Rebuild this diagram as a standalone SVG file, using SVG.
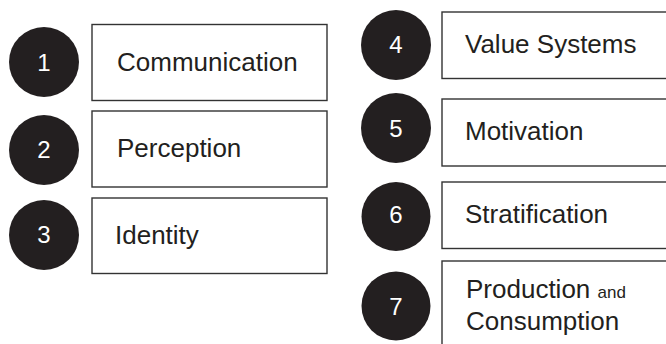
<svg xmlns="http://www.w3.org/2000/svg" width="666" height="344" viewBox="0 0 666 344">
<style>
.c{fill:#231f20}
.b{fill:#fff;stroke:#333;stroke-width:1.4}
.n{font-family:"Liberation Sans",Arial,sans-serif;font-size:24px;fill:#fff;text-anchor:middle}
.t{font-family:"Liberation Sans",Arial,sans-serif;font-size:26px;fill:#231f20}
.s{font-size:17px}
</style>
<rect width="666" height="344" fill="#fff"/>
<g id="node1">
<circle class="c" cx="44" cy="62" r="35"/><text class="n" x="44" y="71">1</text>
<rect class="b" x="92" y="24.5" width="235" height="76"/><text class="t" x="117" y="71">Communication</text>
</g>
<g id="node2">
<circle class="c" cx="44" cy="150" r="35"/><text class="n" x="44" y="158">2</text>
<rect class="b" x="92" y="111" width="235" height="76"/><text class="t" x="117" y="157">Perception</text>
</g>
<g id="node3">
<circle class="c" cx="44" cy="235" r="35"/><text class="n" x="44" y="243">3</text>
<rect class="b" x="92" y="198" width="235" height="75.5"/><text class="t" x="115" y="244">Identity</text>
</g>
<g id="node4">
<circle class="c" cx="396" cy="45" r="35"/><text class="n" x="396" y="53">4</text>
<rect class="b" x="442" y="12" width="230" height="66.5"/><text class="t" x="465" y="53">Value Systems</text>
</g>
<g id="node5">
<circle class="c" cx="396" cy="128" r="35"/><text class="n" x="396" y="137">5</text>
<rect class="b" x="442" y="99" width="230" height="67"/><text class="t" x="465" y="140">Motivation</text>
</g>
<g id="node6">
<circle class="c" cx="396" cy="216.5" r="34.5"/><text class="n" x="396" y="222.5">6</text>
<rect class="b" x="442" y="182" width="230" height="66.5"/><text class="t" x="465" y="223">Stratification</text>
</g>
<g id="node7">
<circle class="c" cx="396" cy="306" r="34.5"/><text class="n" x="396" y="315">7</text>
<rect class="b" x="442" y="261" width="230" height="100"/><text class="t" x="466" y="298">Production <tspan class="s">and</tspan></text><text class="t" x="466" y="330">Consumption</text>
</g>
<g id="connectors"/>
</svg>
